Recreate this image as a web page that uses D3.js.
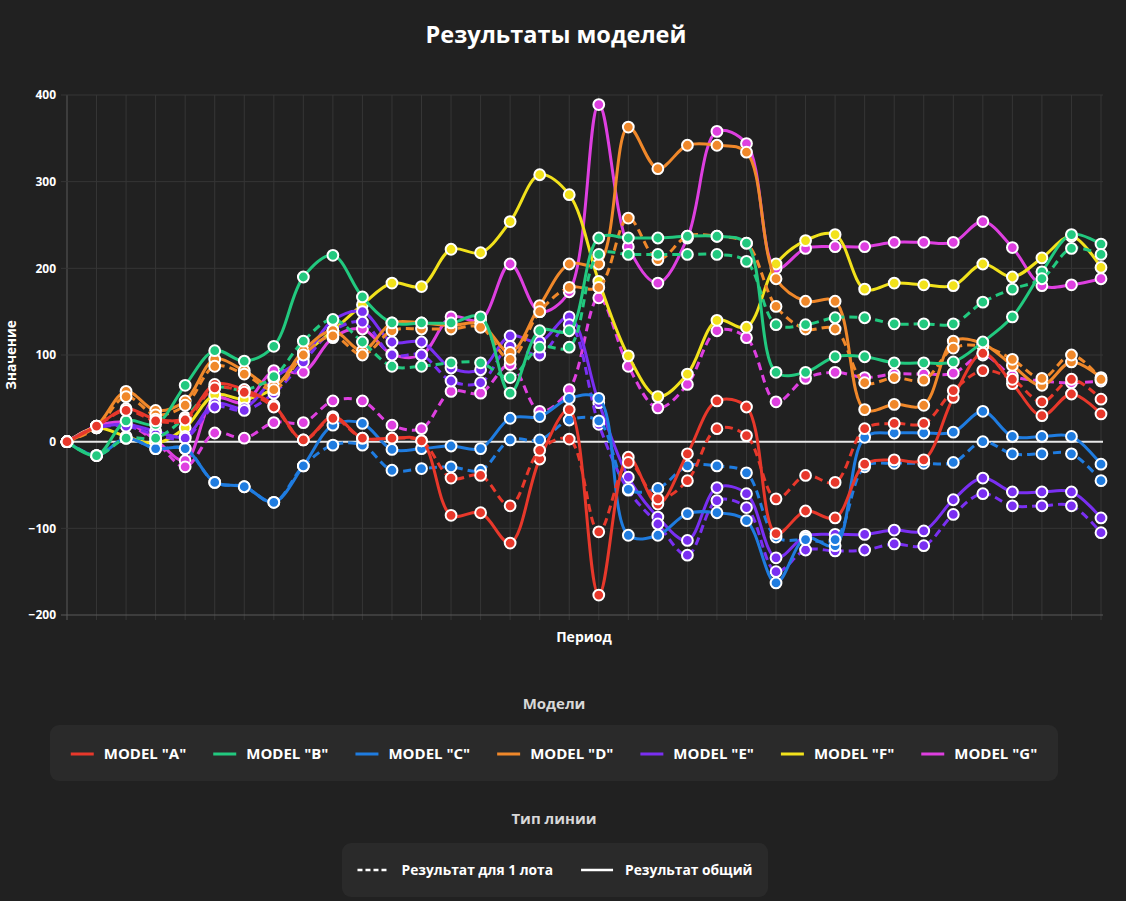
<!DOCTYPE html>
<html><head><meta charset="utf-8">
<script src="https://cdn.jsdelivr.net/npm/d3@7"></script>
<style>
html,body{margin:0;padding:0;background:#212121;}
svg{display:block;font-family:"Open Sans","Noto Sans",sans-serif;}
</style></head><body>
<svg id="chart" width="1126" height="901"></svg>
<script>
// ---------- DATA ----------
const periods = [1,2,3,4,5,6,7,8,9,10,11,12,13,14,15,16,17,18,19,20,21,22,23,24,25,26,27,28,29,30,31,32,33,34,35,36];
const modelNames = ['MODEL "A"','MODEL "B"','MODEL "C"','MODEL "D"','MODEL "E"','MODEL "F"','MODEL "G"'];
const modelColors = ["#e8382b","#22c97f","#1f7ce0","#f0882a","#7a2ff2","#f2e21c","#de3fe0"];
const yTicks = [-200,-100,0,100,200,300,400];
const lineTypes = ["Результат для 1 лота","Результат общий"];

// total result (solid) per model
const totalA = [0,18,38,26,27,66,60,42,2,29,4,4,1,-85,-82,-117,-20,37,-177,-18,-72,-14,47,40,-106,-80,-88,-26,-21,-21,51,102,67,30,55,32];
const totalB = [0,-16,24,20,65,105,93,110,190,215,167,137,137,137,144,56,128,128,235,235,235,237,237,229,80,80,98,98,91,91,92,115,144,196,239,228];
const totalC = [0,-16,4,-8,-8,-47,-52,-70,-28,19,21,-9,-8,-5,-8,27,29,50,50,-108,-108,-83,-82,-91,-163,-111,-120,5,10,10,11,35,6,6,6,-26];
const totalD = [0,18,58,36,47,95,82,64,105,128,105,137,137,134,136,103,157,205,205,363,315,342,342,334,188,162,162,37,43,42,116,113,88,65,92,74];
const totalE = [0,16,20,12,6,44,39,73,97,140,150,115,115,85,83,122,115,144,45,-41,-87,-114,-53,-60,-134,-109,-107,-107,-102,-103,-67,-42,-58,-58,-58,-88];
const totalF = [0,16,6,-2,16,54,49,62,100,128,158,183,179,222,218,254,308,285,185,99,52,78,140,132,205,232,239,176,183,181,180,205,190,212,237,201];
const totalG = [0,18,22,2,-22,50,45,82,80,120,130,101,100,144,140,205,150,173,389,225,183,235,358,344,200,223,225,225,230,230,230,254,224,180,181,188];

// result for 1 lot (dashed) per model
const lotA = [0,18,36,24,25,62,57,40,2,27,4,4,1,-42,-39,-74,-10,3,-104,-24,-66,-45,15,7,-66,-39,-47,15,21,21,59,82,72,46,72,49];
const lotB = [0,-16,4,4,28,62,60,75,116,141,115,87,87,91,91,74,109,109,216,216,216,216,216,208,135,135,143,143,136,136,136,161,176,188,223,216];
const lotC = [0,-16,4,-8,-8,-47,-52,-70,-28,-4,-4,-33,-31,-29,-33,2,2,25,24,-55,-54,-28,-28,-36,-110,-113,-113,-29,-25,-25,-24,0,-14,-14,-14,-45];
const lotD = [0,16,52,31,42,87,78,60,100,122,100,128,130,130,132,95,150,178,178,258,210,237,237,229,156,130,130,68,74,71,108,110,95,73,100,72];
const lotE = [0,16,18,8,4,40,36,56,92,128,138,100,100,70,68,110,100,135,20,-56,-95,-131,-68,-76,-150,-125,-126,-125,-118,-120,-84,-60,-74,-74,-74,-105];
const lotF = null;
const lotG = [0,18,20,0,-29,10,4,22,22,47,47,19,15,58,56,89,35,60,166,87,39,66,128,120,46,73,80,74,78,78,79,100,76,70,68,70];

const totals = [totalA,totalB,totalC,totalD,totalE,totalF,totalG];
const lots = [lotA,lotB,lotC,lotD,lotE,lotF,lotG];

// ---------- CHART ----------
const svg = d3.select("#chart");
svg.append("rect").attr("width",1126).attr("height",901).attr("fill","#212121");

const x = d3.scalePoint().domain(periods).range([67,1101]);
const y = d3.scaleLinear().domain([-200,400]).range([615,95]);

// title
svg.append("text").attr("x",556).attr("y",43).attr("text-anchor","middle")
  .attr("fill","#ffffff").attr("font-size",23.5).attr("font-weight",700).text("Результаты моделей");

// grid
const grid = svg.append("g");
grid.selectAll("line.v").data(periods).join("line")
  .attr("x1",d=>x(d)).attr("x2",d=>x(d)).attr("y1",95).attr("y2",620)
  .attr("stroke",(d,i)=>i===0?"#5a5a5a":"#363636").attr("stroke-width",1);
grid.selectAll("line.h").data(yTicks).join("line")
  .attr("x1",61).attr("x2",1103).attr("y1",d=>y(d)).attr("y2",d=>y(d))
  .attr("stroke",d=>d===0?"#e8e8e8":(d===-200?"#5a5a5a":"#363636"))
  .attr("stroke-width",d=>d===0?2:1);

// y axis labels
const yAxis = d3.axisLeft(y).tickValues(yTicks).tickSize(0).tickPadding(0);
const gy = svg.append("g").attr("transform","translate(56,0)").call(yAxis);
gy.select(".domain").remove();
gy.selectAll("text").attr("fill","#ffffff").attr("font-size",12).attr("font-weight",700)
  .attr("font-family",'"Open Sans","Noto Sans",sans-serif');

svg.append("text").attr("transform","translate(16,355) rotate(-90)").attr("text-anchor","middle")
  .attr("fill","#ffffff").attr("font-size",13.5).attr("font-weight",700).text("Значение");
svg.append("text").attr("x",584).attr("y",642).attr("text-anchor","middle")
  .attr("fill","#ffffff").attr("font-size",14).attr("font-weight",700).text("Период");

// series
const line = d3.line().x((d,i)=>x(periods[i])).y(d=>y(d)).curve(d3.curveCatmullRom.alpha(0.5));
const series = [];
modelNames.forEach((name,m)=>{
  if(lots[m]) series.push({m, dashed:true, values:lots[m]});
  series.push({m, dashed:false, values:totals[m]});
});
const plot = svg.append("g");
series.slice().reverse().forEach(s=>{
  const g = plot.append("g");
  g.append("path").attr("d",line(s.values)).attr("fill","none")
    .attr("stroke",modelColors[s.m]).attr("stroke-width",3)
    .attr("stroke-dasharray",s.dashed?"8,5":null).attr("stroke-linejoin","round");
  g.selectAll("circle").data(s.values).join("circle")
    .attr("cx",(d,i)=>x(periods[i])).attr("cy",d=>y(d)).attr("r",5.4)
    .attr("fill",modelColors[s.m]).attr("stroke","#ffffff").attr("stroke-width",2);
});

// legend 1 - models
svg.append("text").attr("x",554).attr("y",709).attr("text-anchor","middle")
  .attr("fill","#d8d8d8").attr("font-size",15).attr("font-weight",700).text("Модели");
svg.append("rect").attr("x",50).attr("y",725).attr("width",1008).attr("height",56).attr("rx",9)
  .attr("fill","#2a2a2a");
const leg1 = svg.append("g");
const items1 = leg1.selectAll("g").data(modelNames).join("g");
items1.append("line").attr("x1",0).attr("x2",23).attr("y1",0).attr("y2",0)
  .attr("stroke",(d,i)=>modelColors[i]).attr("stroke-width",3);
items1.append("text").attr("x",33).attr("y",5).attr("fill","#ffffff").attr("font-size",15)
  .attr("font-weight",700).text(d=>d);
let widths1 = [];
items1.each(function(){ widths1.push(33 + d3.select(this).select("text").node().getComputedTextLength()); });
const gap1 = 27;
const total1 = d3.sum(widths1) + gap1*(widths1.length-1);
let cx1 = 554 - total1/2;
items1.attr("transform",(d,i)=>{ const t=`translate(${cx1},754)`; cx1 += widths1[i]+gap1; return t; });

// legend 2 - line types
svg.append("text").attr("x",554).attr("y",824).attr("text-anchor","middle")
  .attr("fill","#d8d8d8").attr("font-size",15).attr("font-weight",700).text("Тип линии");
svg.append("rect").attr("x",342).attr("y",843).attr("width",426).attr("height",54).attr("rx",9)
  .attr("fill","#2a2a2a");
const leg2 = svg.append("g");
const items2 = leg2.selectAll("g").data(lineTypes).join("g");
items2.append("line").attr("x1",0).attr("x2",32).attr("y1",0).attr("y2",0)
  .attr("stroke","#ffffff").attr("stroke-width",2.5)
  .attr("stroke-dasharray",(d,i)=>i===0?"5,3":null);
items2.append("text").attr("x",44).attr("y",5).attr("fill","#ffffff").attr("font-size",13.8)
  .attr("font-weight",700).text(d=>d);
let widths2 = [];
items2.each(function(){ widths2.push(44 + d3.select(this).select("text").node().getComputedTextLength()); });
const gap2 = 28;
const total2 = d3.sum(widths2) + gap2*(widths2.length-1);
let cx2 = 555 - total2/2;
items2.attr("transform",(d,i)=>{ const t=`translate(${cx2},870)`; cx2 += widths2[i]+gap2; return t; });
</script>
</body></html>
